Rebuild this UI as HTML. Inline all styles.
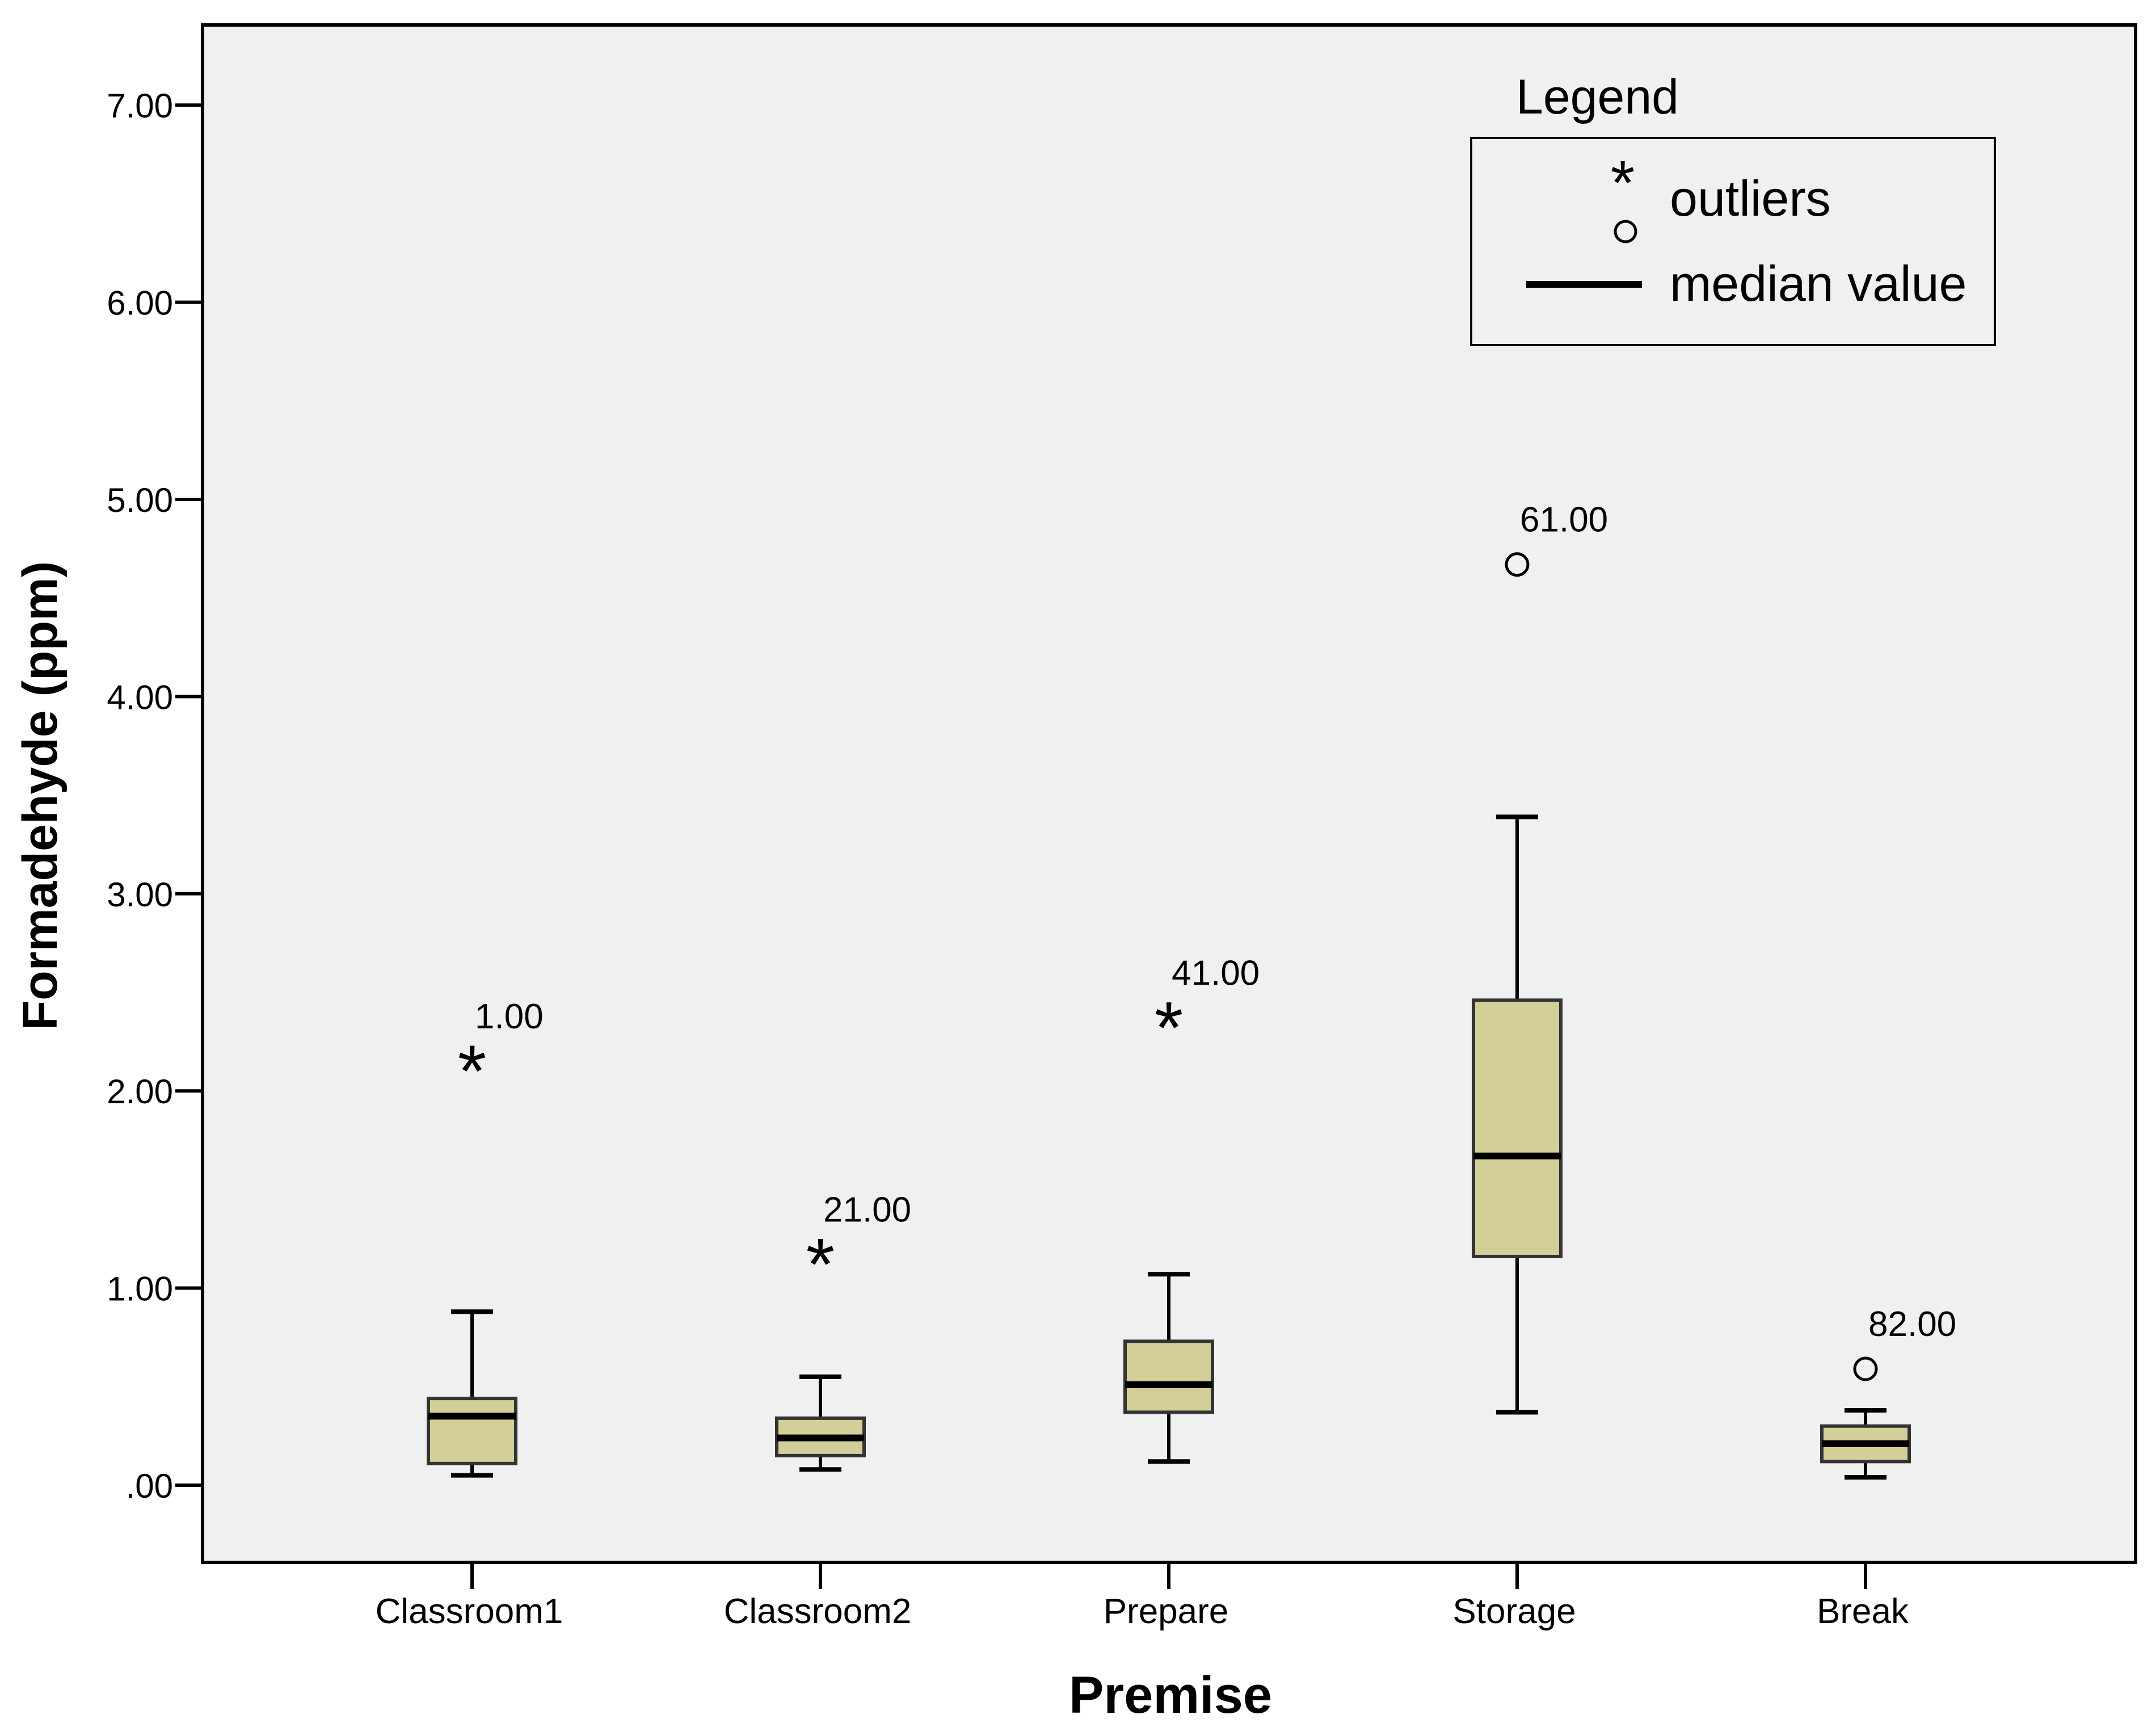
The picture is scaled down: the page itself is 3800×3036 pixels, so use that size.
<!DOCTYPE html>
<html><head><meta charset="utf-8"><style>body{margin:0;background:#fff}svg{display:block}</style></head>
<body>
<svg id="chart" width="3800" height="3036" xmlns="http://www.w3.org/2000/svg" font-family="Liberation Sans, sans-serif">
<rect x="357" y="44" width="3407" height="2709" fill="#f0f0f0" stroke="#000" stroke-width="6"/>
<g id="axes"></g><g id="boxes"></g>
<text transform="translate(100,1402) rotate(-90)" text-anchor="middle" font-size="86" font-weight="bold">Formadehyde (ppm)</text>
<text x="2063" y="3018" text-anchor="middle" font-size="92" font-weight="bold">Premise</text>
<g>
<text x="2672" y="200" font-size="86">Legend</text>
<rect x="2593" y="243" width="923" height="365" fill="none" stroke="#000" stroke-width="4"/>
<text x="2860" y="360" text-anchor="middle" font-size="110">*</text>
<circle cx="2865" cy="408" r="18" fill="none" stroke="#000" stroke-width="5"/>
<text x="2943" y="380" font-size="88">outliers</text>
<line x1="2690" y1="501" x2="2894" y2="501" stroke="#000" stroke-width="12"/>
<text x="2943" y="530" font-size="88">median value</text>
</g>
</svg>
<script>
const categories=["Classroom1","Classroom2","Prepare","Storage","Break"];
const whiskerLow=[0.05,0.08,0.12,0.37,0.04];
const q1=[0.11,0.15,0.37,1.16,0.12];
const median=[0.35,0.24,0.51,1.67,0.21];
const q3=[0.44,0.34,0.73,2.46,0.30];
const whiskerHigh=[0.88,0.55,1.07,3.39,0.38];
const outlierValue=[2.15,1.17,2.37,4.67,0.59];
const outlierType=["star","star","star","circle","circle"];
const outlierLabel=["1.00","21.00","41.00","61.00","82.00"];
const yTicks=[0,1,2,3,4,5,6,7];
const yTickLabels=[".00","1.00","2.00","3.00","4.00","5.00","6.00","7.00"];
const NS="http://www.w3.org/2000/svg";
const y=v=>2617-v*347.4;
const x=i=>832+i*614;
function mk(t,a,p){const e=document.createElementNS(NS,t);for(const k in a)e.setAttribute(k,a[k]);p.appendChild(e);return e;}
const ax=document.getElementById('axes'),bx=document.getElementById('boxes');
yTicks.forEach((v,i)=>{
 const l=mk('line',{x1:309,x2:357,y1:y(v),y2:y(v),stroke:'#000','stroke-width':6},ax);
 
 
 const t=mk('text',{x:305,y:y(v)+22,'text-anchor':'end','font-size':60},ax);t.textContent=yTickLabels[i];
 
 
});
categories.forEach((c,i)=>{
 const cx=x(i);
 const tk=mk('line',{x1:cx,x2:cx,y1:2753,y2:2800,stroke:'#000','stroke-width':6},ax);
 
 
 const t=mk('text',{x:cx-5,y:2860,'text-anchor':'middle','font-size':62},ax);t.textContent=c;
 
 
 const g=mk('g',{},bx);
 
 
 mk('line',{x1:cx,x2:cx,y1:y(whiskerLow[i]),y2:y(whiskerHigh[i]),stroke:'#000','stroke-width':6},g);
 mk('line',{x1:cx-37,x2:cx+37,y1:y(whiskerLow[i]),y2:y(whiskerLow[i]),stroke:'#000','stroke-width':8},g);
 mk('line',{x1:cx-37,x2:cx+37,y1:y(whiskerHigh[i]),y2:y(whiskerHigh[i]),stroke:'#000','stroke-width':8},g);
 mk('rect',{x:cx-77,y:y(q3[i]),width:154,height:y(q1[i])-y(q3[i]),fill:'#d4cf98',stroke:'#333','stroke-width':6},g);
 mk('line',{x1:cx-77,x2:cx+77,y1:y(median[i]),y2:y(median[i]),stroke:'#000','stroke-width':12},g);
 const oy=y(outlierValue[i]);
 if(outlierType[i]==='star'){const s=mk('text',{x:cx,y:oy+62,'text-anchor':'middle','font-size':130},g);s.textContent='*';}
 else mk('circle',{cx:cx,cy:oy,r:19,fill:'none',stroke:'#000','stroke-width':5},g);
 const ol=mk('text',{x:cx+5,y:oy-58,'font-size':62},g);ol.textContent=outlierLabel[i];
 
 
});
</script>
</body></html>
